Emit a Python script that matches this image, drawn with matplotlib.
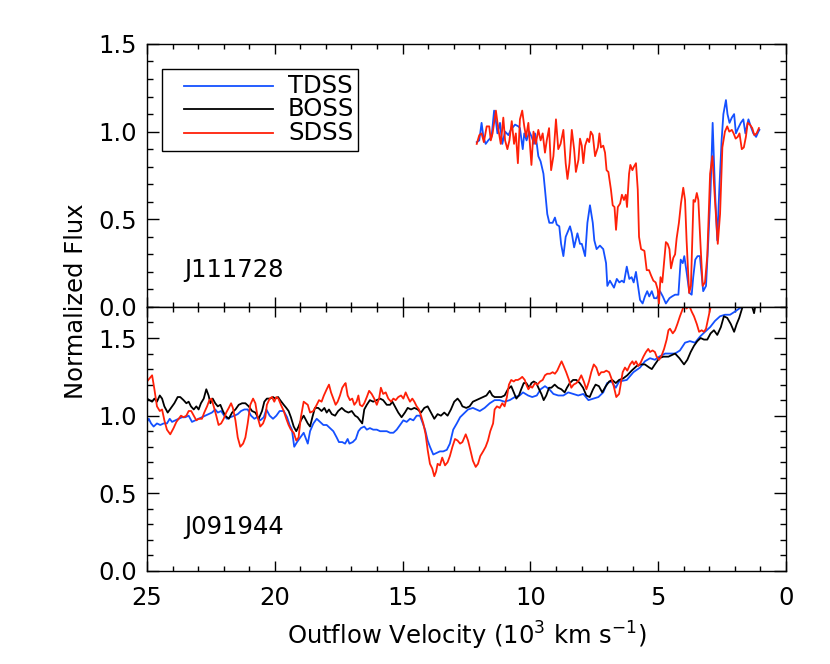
"""
Outflow velocity profiles of two BAL quasars (J111728, J091944)
compared across TDSS / BOSS / SDSS epochs.
"""
import matplotlib
matplotlib.use("Agg")
import matplotlib.pyplot as plt
from matplotlib.ticker import MultipleLocator
from matplotlib.patches import Rectangle
from matplotlib.lines import Line2D

# ---------------------------------------------------------------------------
# Data (velocity in 10^3 km/s, normalized flux)
# ---------------------------------------------------------------------------

# J111728 -- TDSS
j1117_tdss_v = [12.10, 12.00, 11.91, 11.84, 11.75, 11.65, 11.52, 11.42, 11.35, 11.29,
                11.19, 11.10, 10.99, 10.86, 10.77, 10.60, 10.47, 10.41, 10.30, 10.24,
                10.15, 10.04, 9.95, 9.86, 9.82, 9.75, 9.69, 9.60, 9.49, 9.43,
                9.34, 9.26, 9.13, 9.04, 8.97, 8.87, 8.80, 8.71, 8.62, 8.45,
                8.38, 8.29, 8.16, 8.06, 7.99, 7.86, 7.77, 7.67, 7.56, 7.50,
                7.41, 7.28, 7.15, 7.04, 6.99, 6.89, 6.73, 6.62, 6.52, 6.42,
                6.34, 6.23, 6.13, 6.04, 5.96, 5.87, 5.77, 5.71, 5.61, 5.52,
                5.43, 5.35, 5.25, 5.16, 5.06, 4.93, 4.82, 4.70, 4.56, 4.46,
                4.34, 4.21, 4.12, 4.04, 3.98, 3.89, 3.78, 3.69, 3.63, 3.55,
                3.46, 3.37, 3.29, 3.24, 3.13, 3.04, 2.95, 2.87, 2.78, 2.69,
                2.61, 2.52, 2.45, 2.35, 2.29, 2.21, 2.12, 2.03, 1.96, 1.87,
                1.77, 1.67, 1.59, 1.47, 1.38, 1.28, 1.17, 1.08, 1.04]
j1117_tdss_f = [0.94, 0.95, 1.05, 0.97, 0.93, 0.95, 0.97, 1.12, 1.06, 0.99,
                1.05, 0.93, 1.00, 0.98, 1.01, 1.04, 1.03, 1.02, 0.90, 0.99,
                0.95, 1.00, 0.97, 0.93, 0.99, 0.93, 0.86, 0.83, 0.76, 0.67,
                0.53, 0.48, 0.48, 0.51, 0.47, 0.46, 0.36, 0.29, 0.40, 0.46,
                0.42, 0.34, 0.42, 0.36, 0.36, 0.29, 0.48, 0.58, 0.48, 0.38,
                0.33, 0.35, 0.33, 0.25, 0.12, 0.15, 0.11, 0.16, 0.14, 0.15,
                0.14, 0.23, 0.16, 0.17, 0.14, 0.20, 0.10, 0.04, 0.02, 0.06,
                0.09, 0.06, 0.09, 0.05, 0.05, 0.09, 0.06, 0.02, 0.05, 0.06,
                0.07, 0.07, 0.27, 0.25, 0.29, 0.20, 0.08, 0.07, 0.17, 0.27,
                0.29, 0.29, 0.17, 0.09, 0.12, 0.38, 0.67, 1.05, 0.67, 0.38,
                0.67, 0.95, 1.10, 1.18, 1.10, 1.05, 1.08, 1.10, 0.99, 1.02,
                1.05, 1.07, 0.99, 1.07, 1.03, 0.99, 0.97, 1.00, 1.01]

# J111728 -- SDSS
j1117_sdss_v = [12.10, 12.00, 11.91, 11.82, 11.71, 11.61, 11.55, 11.48, 11.35, 11.25,
                11.16, 11.06, 10.99, 10.90, 10.82, 10.73, 10.64, 10.57, 10.49, 10.41,
                10.32, 10.24, 10.17, 10.08, 9.96, 9.88, 9.79, 9.69, 9.60, 9.52,
                9.43, 9.36, 9.27, 9.19, 9.10, 9.00, 8.91, 8.82, 8.71, 8.62,
                8.55, 8.47, 8.38, 8.29, 8.22, 8.12, 8.06, 7.99, 7.93, 7.86,
                7.77, 7.70, 7.64, 7.56, 7.47, 7.36, 7.30, 7.24, 7.15, 7.08,
                7.02, 6.95, 6.85, 6.78, 6.71, 6.65, 6.58, 6.49, 6.42, 6.34,
                6.27, 6.22, 6.14, 6.09, 6.01, 5.95, 5.87, 5.80, 5.75, 5.67,
                5.54, 5.45, 5.36, 5.28, 5.19, 5.10, 5.02, 4.97, 4.91, 4.84,
                4.70, 4.63, 4.56, 4.50, 4.41, 4.34, 4.28, 4.19, 4.11, 4.02,
                3.95, 3.89, 3.79, 3.72, 3.62, 3.56, 3.49, 3.43, 3.34, 3.26,
                3.17, 3.08, 2.97, 2.88, 2.78, 2.67, 2.58, 2.49, 2.39, 2.30,
                2.22, 2.12, 2.05, 1.97, 1.89, 1.82, 1.73, 1.65, 1.57, 1.50,
                1.41, 1.32, 1.24, 1.15, 1.06]
j1117_sdss_f = [0.93, 0.98, 0.99, 0.94, 1.03, 1.03, 0.95, 0.99, 1.12, 1.01,
                0.93, 1.08, 0.95, 0.90, 0.95, 1.06, 0.93, 0.99, 0.82, 1.07,
                1.12, 1.03, 0.97, 1.05, 0.81, 1.00, 0.93, 1.01, 0.95, 0.99,
                0.88, 0.95, 1.02, 0.78, 0.86, 1.07, 0.90, 0.93, 1.01, 0.82,
                0.73, 0.82, 1.01, 0.90, 0.77, 0.84, 0.96, 0.92, 0.82, 0.92,
                0.96, 0.94, 1.00, 0.98, 0.86, 0.91, 0.99, 0.91, 0.92, 0.88,
                0.78, 0.77, 0.67, 0.58, 0.57, 0.44, 0.57, 0.59, 0.64, 0.61,
                0.64, 0.57, 0.76, 0.81, 0.78, 0.80, 0.82, 0.67, 0.40, 0.33,
                0.32, 0.21, 0.21, 0.18, 0.15, 0.14, 0.10, 0.02, 0.17, 0.14,
                0.37, 0.36, 0.33, 0.22, 0.28, 0.30, 0.39, 0.48, 0.59, 0.68,
                0.61, 0.38, 0.08, 0.12, 0.61, 0.60, 0.65, 0.61, 0.34, 0.12,
                0.14, 0.29, 0.76, 0.86, 0.61, 0.36, 0.53, 0.91, 1.00, 1.03,
                1.00, 1.01, 0.99, 0.96, 0.97, 0.99, 0.90, 0.91, 0.97, 1.05,
                1.04, 1.02, 0.98, 0.99, 1.02]

# J091944 -- TDSS
j0919_tdss_v = [25.00, 24.93, 24.84, 24.74, 24.61, 24.48, 24.35, 24.22, 24.11, 24.02,
                23.89, 23.76, 23.63, 23.50, 23.37, 23.24, 23.11, 22.98, 22.85, 22.72,
                22.59, 22.46, 22.33, 22.23, 22.10, 21.98, 21.87, 21.74, 21.58, 21.45,
                21.32, 21.19, 21.06, 20.93, 20.80, 20.70, 20.57, 20.43, 20.33, 20.20,
                20.07, 19.94, 19.81, 19.65, 19.52, 19.42, 19.33, 19.24, 19.13, 19.00,
                18.87, 18.71, 18.62, 18.49, 18.36, 18.23, 18.10, 17.97, 17.84, 17.71,
                17.58, 17.49, 17.36, 17.25, 17.15, 17.08, 16.95, 16.83, 16.73, 16.63,
                16.50, 16.40, 16.28, 16.15, 16.01, 15.88, 15.76, 15.62, 15.49, 15.36,
                15.23, 15.10, 14.97, 14.84, 14.71, 14.58, 14.45, 14.32, 14.23, 14.12,
                14.02, 13.93, 13.80, 13.67, 13.54, 13.41, 13.27, 13.15, 13.02, 12.88,
                12.75, 12.44, 12.25, 11.98, 11.79, 11.59, 11.40, 11.20, 11.01, 10.81,
                10.61, 10.42, 10.29, 10.09, 9.93, 9.75, 9.60, 9.43, 9.26, 9.10,
                8.91, 8.71, 8.52, 8.32, 8.13, 7.93, 7.73, 7.54, 7.34, 7.15,
                7.00, 6.83, 6.66, 6.53, 6.23, 5.97, 5.71, 5.52, 5.32, 5.13,
                4.96, 4.73, 4.54, 4.34, 4.15, 3.95, 3.76, 3.56, 3.36, 3.17,
                2.97, 2.78, 2.58, 2.39, 2.19, 2.00, 1.83, 1.73, 1.50, 1.20]
j0919_tdss_f = [0.96, 0.98, 0.95, 0.93, 0.95, 0.94, 0.95, 0.95, 0.98, 0.96,
                0.97, 0.98, 0.99, 0.99, 1.00, 0.96, 0.97, 0.98, 0.99, 1.00,
                1.01, 1.02, 1.04, 1.02, 1.03, 1.00, 0.98, 0.99, 1.00, 1.01,
                1.03, 1.04, 1.04, 1.00, 0.98, 0.99, 0.97, 0.99, 1.04, 1.00,
                0.98, 1.00, 1.03, 1.03, 0.99, 0.94, 0.91, 0.80, 0.83, 0.86,
                0.89, 0.82, 0.90, 0.95, 0.98, 0.96, 0.94, 0.94, 0.92, 0.90,
                0.86, 0.83, 0.83, 0.82, 0.85, 0.82, 0.83, 0.85, 0.90, 0.92,
                0.93, 0.91, 0.92, 0.91, 0.91, 0.90, 0.90, 0.90, 0.89, 0.89,
                0.91, 0.94, 0.97, 0.96, 0.98, 0.97, 1.00, 1.00, 0.96, 0.91,
                0.84, 0.80, 0.75, 0.76, 0.77, 0.77, 0.78, 0.82, 0.91, 0.95,
                0.99, 1.04, 1.05, 1.03, 1.05, 1.08, 1.10, 1.10, 1.09, 1.10,
                1.12, 1.13, 1.15, 1.13, 1.12, 1.13, 1.17, 1.19, 1.17, 1.14,
                1.13, 1.13, 1.15, 1.14, 1.13, 1.14, 1.10, 1.11, 1.12, 1.15,
                1.21, 1.22, 1.18, 1.22, 1.23, 1.28, 1.31, 1.35, 1.37, 1.36,
                1.38, 1.40, 1.40, 1.40, 1.42, 1.47, 1.48, 1.47, 1.51, 1.54,
                1.57, 1.61, 1.64, 1.65, 1.65, 1.67, 1.69, 1.70, 1.78, 1.85]

# J091944 -- BOSS
j0919_boss_v = [25.00, 24.90, 24.80, 24.71, 24.61, 24.50, 24.41, 24.32, 24.19, 24.06,
                23.93, 23.80, 23.70, 23.57, 23.46, 23.37, 23.28, 23.17, 23.07, 22.98,
                22.89, 22.78, 22.68, 22.59, 22.52, 22.43, 22.33, 22.23, 22.13, 22.03,
                21.94, 21.80, 21.67, 21.54, 21.41, 21.28, 21.15, 21.02, 20.89, 20.76,
                20.63, 20.50, 20.41, 20.31, 20.18, 20.07, 19.98, 19.87, 19.79, 19.65,
                19.55, 19.46, 19.37, 19.26, 19.16, 19.07, 18.98, 18.87, 18.71, 18.62,
                18.53, 18.43, 18.30, 18.17, 18.06, 17.97, 17.88, 17.77, 17.64, 17.52,
                17.38, 17.25, 17.12, 16.99, 16.86, 16.76, 16.67, 16.58, 16.50, 16.40,
                16.28, 16.15, 16.01, 15.88, 15.76, 15.62, 15.49, 15.40, 15.30, 15.17,
                15.04, 14.91, 14.80, 14.67, 14.54, 14.41, 14.28, 14.15, 14.02, 13.89,
                13.76, 13.63, 13.50, 13.37, 13.24, 13.11, 12.98, 12.85, 12.75, 12.66,
                12.51, 12.38, 12.25, 12.12, 11.98, 11.85, 11.72, 11.59, 11.49, 11.40,
                11.27, 11.14, 11.01, 10.88, 10.75, 10.65, 10.55, 10.45, 10.36, 10.26,
                10.16, 10.05, 9.96, 9.87, 9.77, 9.66, 9.57, 9.48, 9.38, 9.27,
                9.18, 9.05, 8.92, 8.79, 8.66, 8.57, 8.46, 8.33, 8.20, 8.07,
                7.94, 7.81, 7.68, 7.55, 7.45, 7.32, 7.19, 7.05, 6.92, 6.80,
                6.66, 6.53, 6.37, 6.21, 6.04, 5.84, 5.69, 5.52, 5.35, 5.25,
                5.13, 4.96, 4.80, 4.60, 4.47, 4.34, 4.17, 3.99, 3.86, 3.73,
                3.60, 3.47, 3.34, 3.21, 3.08, 2.95, 2.82, 2.69, 2.55, 2.43,
                2.30, 2.16, 2.03, 1.93, 1.83, 1.72, 1.50, 1.25, 1.10, 0.95]
j0919_boss_f = [1.11, 1.10, 1.09, 1.11, 1.09, 1.13, 1.11, 1.06, 1.02, 1.05,
                1.08, 1.12, 1.12, 1.10, 1.08, 1.09, 1.06, 1.04, 1.06, 1.04,
                1.08, 1.11, 1.17, 1.13, 1.08, 1.11, 1.08, 1.06, 1.07, 1.03,
                1.00, 0.98, 1.02, 1.04, 1.07, 1.08, 1.08, 1.06, 1.03, 1.02,
                0.98, 1.03, 1.09, 1.11, 1.11, 1.12, 1.11, 1.12, 1.10, 1.07,
                1.05, 1.03, 0.99, 0.93, 0.90, 0.93, 0.97, 1.00, 0.95, 0.93,
                0.99, 1.05, 1.05, 1.03, 1.05, 1.02, 1.04, 1.01, 1.00, 1.03,
                1.05, 1.03, 1.02, 1.03, 1.00, 0.99, 0.97, 0.95, 1.04, 1.07,
                1.10, 1.09, 1.10, 1.11, 1.10, 1.07, 1.07, 1.09, 1.06, 1.02,
                0.99, 1.02, 1.05, 1.04, 1.05, 1.04, 1.02, 1.05, 1.06, 1.02,
                0.98, 1.01, 1.00, 1.02, 1.00, 1.04, 1.09, 1.11, 1.09, 1.06,
                1.05, 1.06, 1.09, 1.10, 1.11, 1.12, 1.13, 1.16, 1.13, 1.12,
                1.12, 1.12, 1.13, 1.17, 1.19, 1.15, 1.11, 1.13, 1.17, 1.21,
                1.21, 1.18, 1.21, 1.22, 1.21, 1.17, 1.14, 1.10, 1.13, 1.18,
                1.18, 1.20, 1.18, 1.17, 1.15, 1.18, 1.21, 1.23, 1.23, 1.21,
                1.18, 1.13, 1.12, 1.17, 1.20, 1.19, 1.15, 1.19, 1.22, 1.23,
                1.21, 1.23, 1.24, 1.26, 1.29, 1.32, 1.33, 1.33, 1.31, 1.30,
                1.33, 1.37, 1.38, 1.38, 1.39, 1.40, 1.37, 1.33, 1.36, 1.41,
                1.45, 1.48, 1.50, 1.49, 1.49, 1.53, 1.55, 1.52, 1.57, 1.64,
                1.63, 1.59, 1.54, 1.59, 1.63, 1.69, 1.80, 1.66, 1.80, 1.85]

# J091944 -- SDSS
j0919_sdss_v = [25.00, 24.90, 24.80, 24.71, 24.61, 24.50, 24.41, 24.32, 24.22, 24.09,
                23.96, 23.85, 23.76, 23.67, 23.57, 23.46, 23.37, 23.27, 23.17, 23.07,
                22.98, 22.85, 22.76, 22.65, 22.56, 22.48, 22.39, 22.29, 22.20, 22.10,
                22.00, 21.90, 21.80, 21.71, 21.64, 21.54, 21.45, 21.35, 21.24, 21.15,
                21.06, 20.96, 20.85, 20.76, 20.67, 20.57, 20.46, 20.37, 20.31, 20.20,
                20.11, 20.02, 19.94, 19.86, 19.76, 19.65, 19.55, 19.46, 19.37, 19.26,
                19.16, 19.07, 18.98, 18.87, 18.71, 18.62, 18.49, 18.36, 18.27, 18.17,
                18.08, 17.97, 17.88, 17.80, 17.71, 17.62, 17.54, 17.45, 17.36, 17.28,
                17.23, 17.15, 17.06, 16.97, 16.89, 16.80, 16.73, 16.67, 16.58, 16.50,
                16.40, 16.31, 16.21, 16.11, 16.01, 15.92, 15.85, 15.76, 15.66, 15.56,
                15.45, 15.36, 15.27, 15.17, 15.06, 14.97, 14.88, 14.80, 14.71, 14.62,
                14.54, 14.45, 14.36, 14.28, 14.19, 14.10, 14.02, 13.93, 13.84, 13.76,
                13.69, 13.63, 13.54, 13.45, 13.34, 13.24, 13.15, 13.05, 12.95, 12.85,
                12.75, 12.66, 12.53, 12.44, 12.35, 12.25, 12.14, 12.05, 11.96, 11.85,
                11.75, 11.66, 11.57, 11.46, 11.40, 11.31, 11.20, 11.10, 11.01, 10.92,
                10.84, 10.75, 10.65, 10.58, 10.49, 10.39, 10.32, 10.22, 10.16, 10.08,
                10.00, 9.93, 9.82, 9.73, 9.62, 9.52, 9.43, 9.34, 9.23, 9.13,
                9.04, 8.95, 8.84, 8.78, 8.70, 8.60, 8.49, 8.40, 8.31, 8.20,
                8.10, 8.01, 7.91, 7.81, 7.71, 7.62, 7.52, 7.42, 7.32, 7.23,
                7.13, 7.03, 6.92, 6.83, 6.74, 6.64, 6.53, 6.44, 6.39, 6.30,
                6.21, 6.10, 6.01, 5.95, 5.87, 5.78, 5.69, 5.58, 5.48, 5.39,
                5.32, 5.22, 5.13, 5.06, 4.96, 4.86, 4.77, 4.67, 4.60, 4.54,
                4.43, 4.34, 4.25, 4.15, 4.06, 3.99, 3.89, 3.79, 3.69, 3.60,
                3.49, 3.40, 3.30, 3.21, 3.13, 3.04, 2.95, 2.80, 2.50, 2.00]
j0919_sdss_f = [1.22, 1.24, 1.26, 1.17, 1.06, 1.03, 1.04, 0.97, 0.91, 0.88,
                0.92, 0.96, 0.98, 1.00, 0.99, 1.00, 1.03, 1.03, 1.00, 0.97,
                0.98, 0.98, 1.02, 1.06, 1.10, 1.11, 1.06, 1.00, 0.94, 0.95,
                0.98, 1.02, 1.05, 1.08, 1.05, 0.97, 0.86, 0.80, 0.82, 0.86,
                0.95, 1.07, 1.11, 1.08, 0.99, 0.93, 0.95, 0.99, 1.07, 1.11,
                1.12, 1.09, 1.12, 1.11, 1.07, 1.03, 0.98, 0.94, 0.91, 0.89,
                0.84, 0.86, 0.99, 1.09, 1.07, 1.02, 1.03, 1.07, 1.10, 1.09,
                1.13, 1.17, 1.20, 1.15, 1.11, 1.07, 1.09, 1.13, 1.18, 1.20,
                1.21, 1.13, 1.10, 1.11, 1.07, 1.09, 1.13, 1.07, 1.06, 1.08,
                1.12, 1.16, 1.14, 1.11, 1.07, 1.11, 1.18, 1.14, 1.15, 1.11,
                1.09, 1.11, 1.10, 1.12, 1.13, 1.11, 1.15, 1.12, 1.09, 1.11,
                1.09, 1.06, 1.04, 1.00, 0.95, 0.88, 0.78, 0.69, 0.66, 0.61,
                0.64, 0.69, 0.68, 0.73, 0.68, 0.70, 0.74, 0.80, 0.85, 0.84,
                0.82, 0.83, 0.88, 0.84, 0.78, 0.71, 0.67, 0.69, 0.74, 0.77,
                0.80, 0.84, 0.90, 0.95, 1.04, 1.06, 1.05, 1.08, 1.06, 1.12,
                1.20, 1.23, 1.22, 1.23, 1.23, 1.24, 1.25, 1.23, 1.20, 1.17,
                1.19, 1.18, 1.21, 1.20, 1.22, 1.23, 1.26, 1.27, 1.27, 1.28,
                1.27, 1.29, 1.33, 1.35, 1.32, 1.28, 1.23, 1.18, 1.20, 1.21,
                1.23, 1.26, 1.22, 1.17, 1.22, 1.28, 1.33, 1.31, 1.26, 1.28,
                1.28, 1.29, 1.28, 1.24, 1.19, 1.12, 1.14, 1.23, 1.28, 1.31,
                1.29, 1.33, 1.35, 1.33, 1.35, 1.32, 1.34, 1.38, 1.41, 1.43,
                1.41, 1.42, 1.41, 1.38, 1.36, 1.39, 1.43, 1.49, 1.55, 1.56,
                1.53, 1.55, 1.59, 1.64, 1.68, 1.71, 1.69, 1.71, 1.67, 1.64,
                1.59, 1.54, 1.55, 1.54, 1.56, 1.63, 1.70, 1.85, 1.95, 2.00]

survey_names = ["TDSS", "BOSS", "SDSS"]
survey_colors = {"TDSS": "#1450ff", "BOSS": "black", "SDSS": "#ff2008"}
object_names = ["J111728", "J091944"]

LW = 1.3
FS = 17.5


# ---------------------------------------------------------------------------
# Axis styling (IDL-like: inward ticks on all four sides)
# ---------------------------------------------------------------------------

def _style_axis(ax, ymax):
    ax.set_xlim(25, 0)
    ax.set_ylim(0, ymax)
    ax.xaxis.set_major_locator(MultipleLocator(5))
    ax.xaxis.set_minor_locator(MultipleLocator(1))
    ax.yaxis.set_major_locator(MultipleLocator(0.5))
    ax.yaxis.set_minor_locator(MultipleLocator(0.1))
    ax.yaxis.set_major_formatter(plt.FormatStrFormatter("%.1f"))
    ax.tick_params(which="both", direction="in", top=True, right=True,
                   labelsize=FS, width=1.0)
    ax.tick_params(axis="x", which="major", length=7.5, pad=11)
    ax.tick_params(axis="x", which="minor", length=3.8)
    ax.tick_params(axis="y", which="major", length=8.8, pad=7)
    ax.tick_params(axis="y", which="minor", length=4.4)
    for sp in ax.spines.values():
        sp.set_linewidth(1.0)


plt.rcParams["mathtext.default"] = "regular"

fig = plt.figure(figsize=(8.3, 6.64), dpi=100)
ax_top = fig.add_axes([0.1771, 0.5377, 0.7699, 0.3961])
ax_bot = fig.add_axes([0.1771, 0.1401, 0.7699, 0.3976])

# ── Top panel: J111728 ───────────────────────────────────────────────────
ax_top.plot(j1117_tdss_v, j1117_tdss_f, color=survey_colors["TDSS"], lw=LW)
ax_top.plot(j1117_sdss_v, j1117_sdss_f, color=survey_colors["SDSS"], lw=LW)
_style_axis(ax_top, 1.5)
ax_top.tick_params(labelbottom=False)
ax_top.text(0.059, 0.141, object_names[0], transform=ax_top.transAxes,
            fontsize=FS, va="center", ha="left")

# legend drawn by hand so the rows sit as tight as in the original
ax_top.add_patch(Rectangle((0.0235, 0.593), 0.307, 0.312, transform=ax_top.transAxes,
                           fill=False, edgecolor="black", lw=1.0))
for name, yy in zip(survey_names, [0.840, 0.753, 0.663]):
    ax_top.add_line(Line2D([0.058, 0.197], [yy, yy], transform=ax_top.transAxes,
                           color=survey_colors[name], lw=LW))
    ax_top.text(0.2207, yy, name, transform=ax_top.transAxes,
                fontsize=FS, va="center", ha="left")

# ── Bottom panel: J091944 ────────────────────────────────────────────────
ax_bot.plot(j0919_tdss_v, j0919_tdss_f, color=survey_colors["TDSS"], lw=LW)
ax_bot.plot(j0919_boss_v, j0919_boss_f, color=survey_colors["BOSS"], lw=LW)
ax_bot.plot(j0919_sdss_v, j0919_sdss_f, color=survey_colors["SDSS"], lw=LW)
_style_axis(ax_bot, 1.7)
ax_bot.text(0.059, 0.167, object_names[1], transform=ax_bot.transAxes,
            fontsize=FS, va="center", ha="left")

ax_bot.set_xlabel(r"Outflow Velocity (10$^3$ km s$^{-1}$)", fontsize=FS, labelpad=7)
fig.text(76 / 830, 1 - 301 / 664, "Normalized Flux", rotation=90,
         fontsize=FS, ha="center", va="center")

plt.savefig("out.png", dpi=100)
plt.close()
